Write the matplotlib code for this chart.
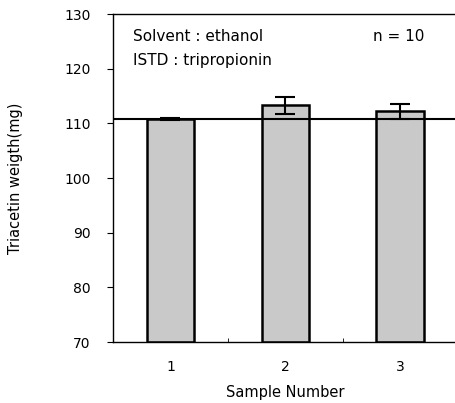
import matplotlib
matplotlib.use("Agg")
import matplotlib.pyplot as plt

samples = ["1", "2", "3"]
weights = [110.8, 113.3, 112.2]
errors = [0.2, 1.5, 1.3]
reference_value = 110.8
yticks = [70, 80, 90, 100, 110, 120, 130]

fig = plt.figure(figsize=(4.56, 4.03), dpi=100)
ax = fig.add_axes([0.248, 0.151, 0.755, 0.814])

x = [1, 2, 3]
ax.bar(x, [w - 70 for w in weights], bottom=70, width=0.41,
       color="#c9c9c9", edgecolor="black", linewidth=1.8, zorder=2)
ax.errorbar(x, weights, yerr=errors, fmt="none", ecolor="black",
            elinewidth=1.5, capsize=7, capthick=1.5, zorder=3)
ax.axhline(reference_value, color="black", linewidth=1.5, zorder=4)

ax.set_xlim(0.5, 3.5)
ax.set_ylim(70, 130)
ax.set_yticks(yticks)
ax.set_xticks(x)
ax.set_xticklabels(samples)
ax.set_xticks([1.5, 2.5], minor=True)
ax.tick_params(axis="x", which="major", length=0, pad=13, labelsize=10)
ax.tick_params(axis="x", which="minor", direction="in", length=3)
ax.tick_params(axis="y", direction="out", length=4, pad=12, labelsize=10)
ax.spines["right"].set_visible(False)
for s in ["left", "bottom", "top"]:
    ax.spines[s].set_linewidth(1.0)

ax.set_xlabel("Sample Number", fontsize=10.5, labelpad=8)
ax.set_ylabel("Triacetin weigth(mg)", fontsize=10.5, labelpad=30)

ax.text(0.058, 0.955, "Solvent : ethanol", transform=ax.transAxes,
        fontsize=11, va="top", ha="left")
ax.text(0.058, 0.88, "ISTD : tripropionin", transform=ax.transAxes,
        fontsize=11, va="top", ha="left")
ax.text(0.755, 0.955, "n = 10", transform=ax.transAxes,
        fontsize=11, va="top", ha="left")

fig.savefig("out.png", dpi=100)
